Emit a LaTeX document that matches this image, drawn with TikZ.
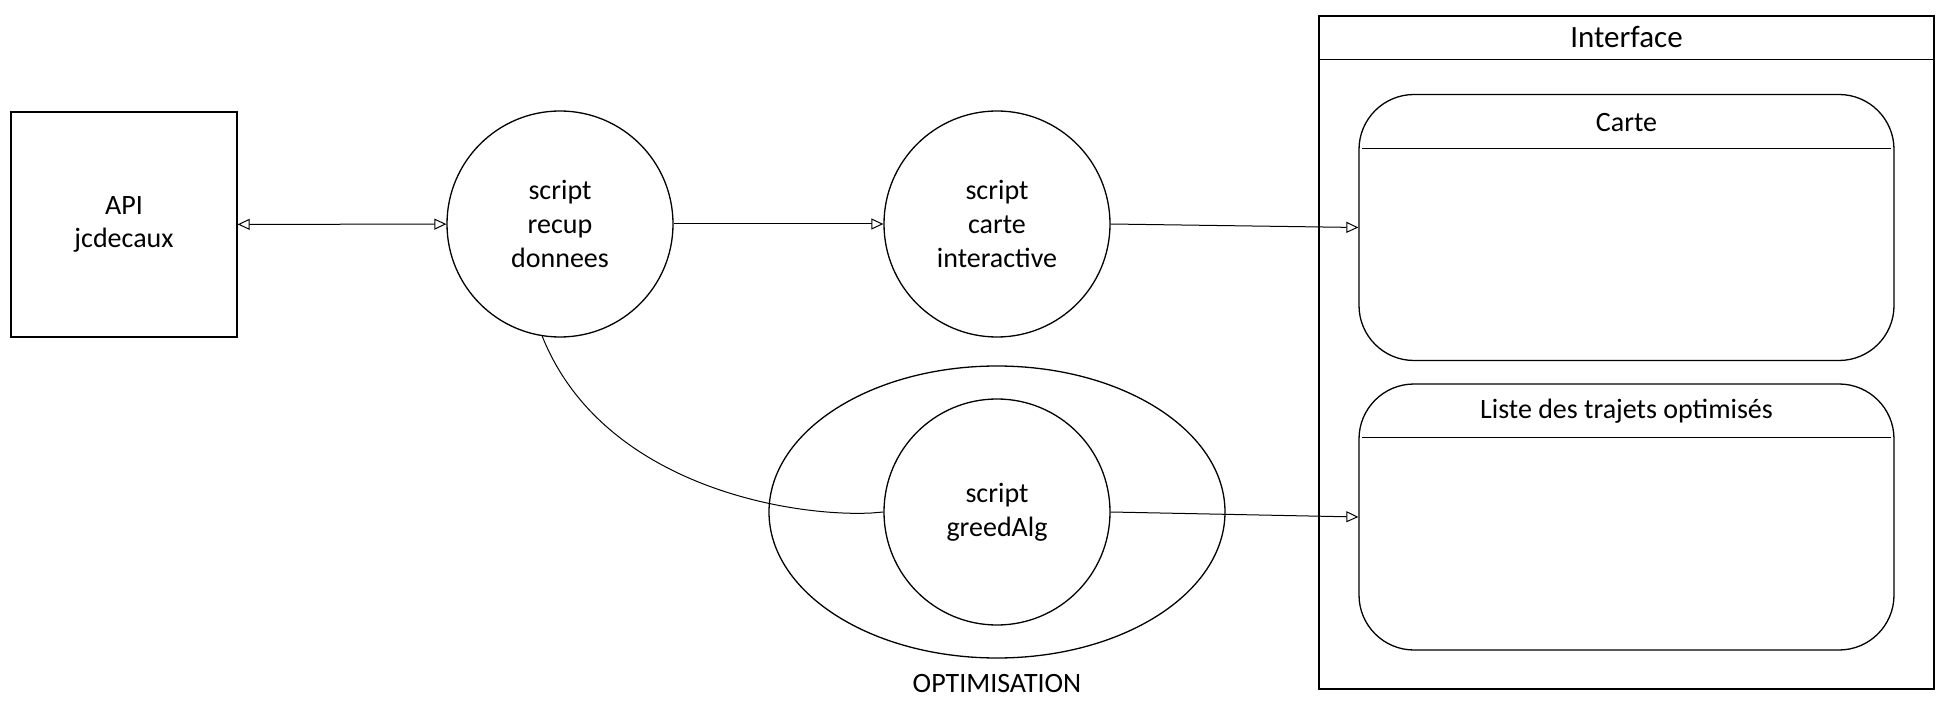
\documentclass[tikz,border=0pt]{standalone}
\usepackage{fontspec}
\setmainfont{Carlito}
\usepackage{tikz}
\usetikzlibrary{calc}
\usetikzlibrary{positioning}
\usetikzlibrary{arrows.meta}
\usetikzlibrary{shapes.geometric}

\begin{document}
\begin{tikzpicture}[x=1pt,y=1pt, line width=1.3pt,
  txt/.style={font=\fontsize{28}{33.6}\selectfont, align=center},
  proc/.style={draw,circle,minimum size=226pt,inner sep=0pt,txt},
  ext/.style={draw,rectangle,minimum width=226pt,minimum height=225pt,txt},
  panel/.style={draw,rectangle,rounded corners=55pt,minimum width=535pt,minimum height=266pt},
  flow/.style={line width=1pt,-{Triangle[open,length=12pt,width=11pt]}},
  sep/.style={line width=0.9pt}]
\useasboundingbox (0,0) rectangle (1944,-727);
% left part
\node (api)[ext] at (124,-224.5) {API\\jcdecaux};
\node (recup)[proc] at (560,-224) {script\\recup\\donnees};
\node (carte)[proc] at (997,-224) {script\\carte\\interactive};
\node (optim)[draw,ellipse,minimum width=456pt,minimum height=292pt] at (997,-512) {};
\node (greed)[proc] at (997,-512) {script\\greedAlg};
\node (optlabel)[txt,below=12pt of optim] {OPTIMISATION};
% interface
\node (iface)[draw,rectangle,minimum width=615pt,minimum height=673pt] at (1626.5,-352.5) {};
\draw ($(iface.north west)+(0,-44)$) -- ($(iface.north east)+(0,-44)$);
\node (ifacetitle)[font=\fontsize{31}{36}\selectfont] at ($(iface.north)+(0,-22)$) {Interface};
\node (cartebox)[panel] at (1626.5,-227.5) {};
\draw[sep] ($(cartebox.north west)+(4,-55)$) -- ($(cartebox.north east)+(-4,-55)$);
\node (cartetitle)[txt] at ($(cartebox.north)+(0,-29)$) {Carte};
\node (listebox)[panel] at (1626.5,-517) {};
\draw[sep] ($(listebox.north west)+(4,-54)$) -- ($(listebox.north east)+(-4,-54)$);
\node (listetitle)[txt] at ($(listebox.north)+(0,-28)$) {Liste des trajets optimisés};
% connectors
\draw[flow,{Triangle[open,length=12pt,width=11pt]}-{Triangle[open,length=12pt,width=11pt]}] (api) -- (recup);
\draw[flow] (recup) -- (carte);
\draw[flow] (carte.east) -- (cartebox.west);
\draw[flow] (greed.east) -- (listebox.west);
\draw[line width=1pt] (recup.261) .. controls +(60,-150) and +(-80,-4) .. ($(greed.west)+(-12,-1)$) -- (greed.west);
\end{tikzpicture}
\end{document}
